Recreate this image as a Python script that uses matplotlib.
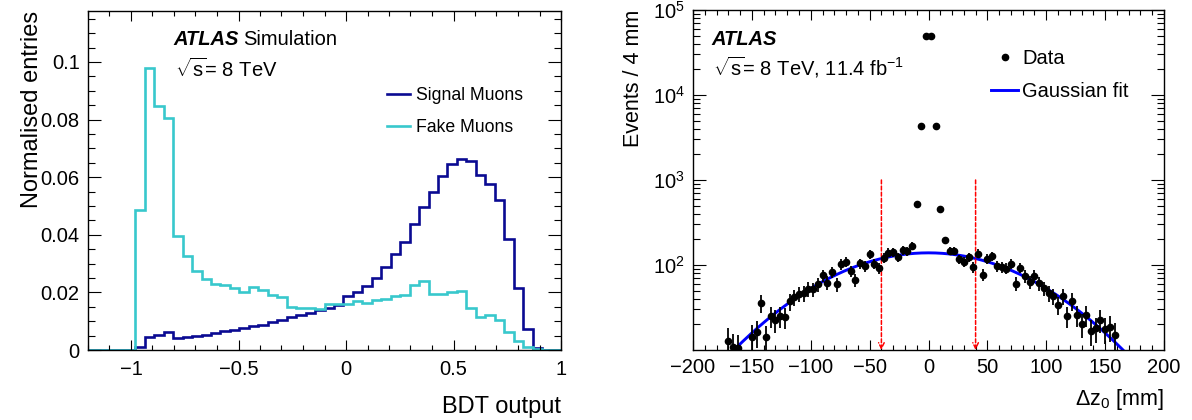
import numpy as np
import matplotlib
matplotlib.use('Agg')
import matplotlib.pyplot as plt
from matplotlib.lines import Line2D
from matplotlib.ticker import MultipleLocator, FuncFormatter, FixedLocator, LogLocator, NullFormatter, LogFormatterSciNotation

plt.rcParams['font.family'] = ['Liberation Sans', 'DejaVu Sans']
plt.rcParams['mathtext.fontset'] = 'custom'
plt.rcParams['mathtext.rm'] = 'Liberation Sans'
plt.rcParams['mathtext.it'] = 'Liberation Sans:italic'
plt.rcParams['mathtext.bf'] = 'Liberation Sans:bold'

# BDT output, 50 bins between -1.2 and 1.0
bdt_lo, bdt_hi, bdt_nbins = -1.2, 1.0, 50
signal_muons = [0, 0, 0, 0, 0, 0.0012, 0.0044, 0.0052, 0.0063, 0.0042,
                0.0046, 0.0049, 0.0053, 0.0060, 0.0065, 0.0071, 0.0077, 0.0085, 0.0088, 0.0098,
                0.0105, 0.0114, 0.0121, 0.0130, 0.0140, 0.0146, 0.0155, 0.0186, 0.0201, 0.0221,
                0.0250, 0.0288, 0.0334, 0.0374, 0.0438, 0.0495, 0.0547, 0.0604, 0.0645, 0.0662,
                0.0655, 0.0609, 0.0578, 0.0521, 0.0387, 0.0214, 0.0073, 0.0008, 0, 0]
fake_muons = [0, 0, 0, 0, 0, 0.0486, 0.0980, 0.0846, 0.0807, 0.0397,
              0.0328, 0.0273, 0.0246, 0.0229, 0.0224, 0.0215, 0.0200, 0.0217, 0.0210, 0.0192,
              0.0184, 0.0149, 0.0145, 0.0146, 0.0143, 0.0161, 0.0158, 0.0161, 0.0169, 0.0163,
              0.0175, 0.0178, 0.0186, 0.0190, 0.0224, 0.0241, 0.0196, 0.0194, 0.0200, 0.0206,
              0.0146, 0.0116, 0.0123, 0.0105, 0.0064, 0.0030, 0.0011, 0.0005, 0, 0]

# delta z0 between the muons, events per 4 mm
dz_centres = [-170, -166, -162,
              -150, -146, -142, -138, -134, -130, -126, -122, -118, -114, -110, -106,
              -102, -98, -94, -90, -86, -82, -78, -74, -70, -66, -62, -58, -54, -50,
              -46, -42, -38, -34, -30, -26, -22, -18, -14, -10,
              -6, -2, 2, 6,
              10, 14, 18, 22, 26, 30, 34, 38, 42, 46, 50, 54, 58, 62, 66, 70, 74, 78,
              82, 86, 90, 94, 98, 102, 106, 110, 114, 118, 122, 126, 130, 134, 138,
              142, 146, 150, 154, 158]
dz_events = [12.9, 10.8, 10.5,
             14.3, 16.4, 35.6, 14.1, 25.2, 22.5, 25.2, 24.5, 37.5, 42.2, 46.2, 46.6,
             52.8, 51.9, 59.4, 75.7, 62.1, 82.8, 59.4, 101.9, 109.6, 85.1, 66.2, 104.7, 97.3, 133.5,
             103.8, 91.4, 122.2, 139.7, 141.9, 124.2, 149.9, 144.8, 167.2, 515,
             4270, 49300, 49300, 4270,
             450, 196, 147.6, 147.6, 116.7, 109.6, 124.2, 94.9, 136.1, 76.4, 118.8, 127.6, 97.3, 94.9,
             90.8, 103.8, 60.5, 93.1, 74.3, 63.2, 74.3, 61.0, 53.3, 46.6, 43.4, 33.7, 43.4, 25.2,
             37.8, 25.9, 20.2, 25.9, 16.8, 18.1, 22.6, 17.6, 18.7, 15.1]
event_weight = 2.0   # weighted entries, error = sqrt(w * N)

# gaussian fit to the tails
fit_amp, fit_mean, fit_sigma = 139.0, 0.0, 72.0
cut_values = [-40, 40]

sig_col = '#0a0a92'
fake_col = '#38c8cc'

fig = plt.figure(figsize=(11.92, 4.2), dpi=100)
W, H = 1192.0, 420.0
ax1 = fig.add_axes([88 / W, 70 / H, 473 / W, 339 / H])
ax2 = fig.add_axes([693 / W, 70 / H, 471 / W, 340 / H])


def root_style(ax):
    ax.tick_params(which='both', direction='in', top=True, right=True, width=0.8,
                   labelsize=14.5, pad=6)
    ax.tick_params(axis='y', which='major', length=9.5)
    ax.tick_params(axis='y', which='minor', length=4.8)
    ax.tick_params(axis='x', which='major', length=7.5)
    ax.tick_params(axis='x', which='minor', length=3.7)
    for s in ax.spines.values():
        s.set_linewidth(1.0)


def fmt(v, p):
    return ('%g' % v).replace('-', '\u2212')


# ---- left: BDT output
edges = np.linspace(bdt_lo, bdt_hi, bdt_nbins + 1)
ax1.stairs(signal_muons, edges, color=sig_col, lw=1.9, baseline=0)
ax1.stairs(fake_muons, edges, color=fake_col, lw=1.9, baseline=0)
ax1.set_xlim(bdt_lo, bdt_hi)
ax1.set_ylim(0, 0.1177)
root_style(ax1)
ax1.xaxis.set_major_locator(MultipleLocator(0.5))
ax1.xaxis.set_minor_locator(MultipleLocator(0.1))
ax1.yaxis.set_major_locator(MultipleLocator(0.02))
ax1.yaxis.set_minor_locator(MultipleLocator(0.005))
ax1.xaxis.set_major_formatter(FuncFormatter(fmt))
ax1.yaxis.set_major_formatter(FuncFormatter(fmt))
ax1.tick_params(axis='x', pad=7)
ax1.set_xlabel('BDT output', fontsize=17, loc='right')
ax1.set_ylabel('Normalised entries', fontsize=17, loc='top')
ax1.xaxis.set_label_coords(1.0, -0.135)
ax1.yaxis.set_label_coords(-0.095, 1.0)

ax1.text(0.18, 0.9, 'ATLAS', transform=ax1.transAxes, fontsize=14.5,
         fontweight='bold', fontstyle='italic', va='baseline')
ax1.text(0.328, 0.9, 'Simulation', transform=ax1.transAxes, fontsize=14.5, va='baseline')
ax1.text(0.184, 0.805, r'$\sqrt{\mathrm{s}}$= 8 TeV', transform=ax1.transAxes,
         fontsize=14.5, va='baseline')
ax1.legend(handles=[Line2D([], [], color=sig_col, lw=1.9), Line2D([], [], color=fake_col, lw=1.9)],
           labels=['Signal Muons', 'Fake Muons'], loc='upper left',
           bbox_to_anchor=(0.632, 0.776), frameon=False, fontsize=12.7,
           handlelength=1.3, handletextpad=0.35, labelspacing=0.86,
           borderaxespad=0, borderpad=0)

# ---- right: delta z0
xs = np.array(dz_centres, dtype=float)
ys = np.array(dz_events)
ax2.errorbar(xs, ys, yerr=np.sqrt(event_weight * ys), fmt='o', color='black',
             ms=4.5, elinewidth=1.3, capsize=0, zorder=3)
xf = np.linspace(-200, 200, 401)
ax2.plot(xf, fit_amp * np.exp(-0.5 * ((xf - fit_mean) / fit_sigma) ** 2),
         color='#0000ff', lw=2.1, zorder=2)
for c in cut_values:
    ax2.annotate('', xy=(c, 10), xytext=(c, 1000),
                 arrowprops=dict(arrowstyle='->', color='red', lw=1.1, ls=(0, (2.5, 1.5)),
                                 shrinkA=0, shrinkB=0, mutation_scale=10))
ax2.set_yscale('log')
ax2.set_xlim(-200, 200)
ax2.set_ylim(10, 1e5)
root_style(ax2)
ax2.xaxis.set_major_locator(MultipleLocator(50))
ax2.xaxis.set_minor_locator(MultipleLocator(10))
ax2.yaxis.set_major_locator(FixedLocator([1e2, 1e3, 1e4, 1e5]))
ax2.yaxis.set_major_formatter(LogFormatterSciNotation())
ax2.yaxis.set_minor_locator(LogLocator(base=10, subs=np.arange(2, 10), numticks=20))
ax2.yaxis.set_minor_formatter(NullFormatter())
ax2.xaxis.set_major_formatter(FuncFormatter(fmt))
ax2.set_xlabel(r'$\Delta$z$_{0}$ [mm]', fontsize=15.5, loc='right')
ax2.set_ylabel('Events / 4 mm', fontsize=15.5, loc='top')
ax2.xaxis.set_label_coords(1.0, -0.11)
ax2.yaxis.set_label_coords(-0.105, 1.0)

ax2.text(0.04, 0.897, 'ATLAS', transform=ax2.transAxes, fontsize=14.5,
         fontweight='bold', fontstyle='italic', va='baseline')
ax2.text(0.042, 0.806, r'$\sqrt{\mathrm{s}}$= 8 TeV, 11.4 fb$^{-1}$', transform=ax2.transAxes,
         fontsize=14.5, va='baseline')
ax2.legend(handles=[Line2D([], [], color='black', marker='o', ls='none', ms=4.5),
                    Line2D([], [], color='#0000ff', lw=2.1)],
           labels=['Data', 'Gaussian fit'], loc='upper left',
           bbox_to_anchor=(0.633, 0.884), frameon=False, fontsize=14.5,
           handlelength=1.33, handletextpad=0.22, labelspacing=0.66,
           borderaxespad=0, borderpad=0)

fig.savefig('out.png', dpi=100)
